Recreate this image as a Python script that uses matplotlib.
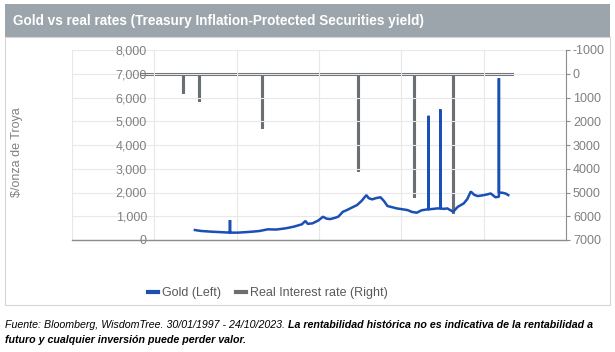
import numpy as np
import matplotlib
matplotlib.use('Agg')
import matplotlib.pyplot as plt
from matplotlib.patches import Rectangle
from matplotlib.lines import Line2D

plt.rcParams['font.family'] = ['Liberation Sans', 'DejaVu Sans']
plt.rcParams['axes.unicode_minus'] = False

# gold price, $/oz (left axis) - decimal years
gold_years = [1997.08, 1997.6, 1998.5, 1999.3, 2000.07, 2000.07, 2000.07, 2000.75, 2001.4, 2001.95,
              2002.6, 2003.3, 2004.0, 2004.8, 2005.5, 2006.2, 2006.5, 2006.7, 2007.1, 2007.6,
              2008.0, 2008.3, 2008.6, 2009.0, 2009.3, 2009.7, 2010.0, 2010.4, 2010.9, 2011.3,
              2011.7, 2011.9, 2012.2, 2012.5, 2012.9, 2013.2, 2013.5, 2013.9, 2014.3, 2014.7,
              2015.2, 2015.6, 2016.0, 2016.4, 2016.9, 2017.0, 2017.0, 2017.0, 2017.4, 2017.75,
              2018.0, 2018.0, 2018.0, 2018.3, 2018.6, 2019.1, 2019.5, 2020.0, 2020.3, 2020.6,
              2020.9, 2021.2, 2021.6, 2022.0, 2022.3, 2022.7, 2023.0, 2023.0, 2023.0, 2023.3,
              2023.6, 2023.8]
gold_price = [420, 380, 350, 330, 310, 840, 310, 310, 330, 350,
              380, 450, 440, 490, 560, 660, 800, 680, 700, 820,
              980, 900, 880, 930, 980, 1190, 1250, 1350, 1470, 1650,
              1890, 1760, 1710, 1760, 1800, 1640, 1430, 1380, 1330, 1300,
              1260, 1180, 1150, 1250, 1290, 1290, 5230, 1290, 1310, 1330,
              1330, 5500, 1330, 1310, 1330, 1190, 1400, 1540, 1720, 2040,
              1900, 1850, 1880, 1920, 1960, 1800, 1820, 6810, 1990, 1990,
              1950, 1890]

# real interest rate (right axis, inverted)
rate_years = [1992.6, 1996.1, 1996.1, 1996.1, 1997.4, 1997.4, 1997.4, 2002.8, 2002.8, 2002.8,
              2011.0, 2011.0, 2011.0, 2015.8, 2015.8, 2015.8, 2019.1, 2019.1, 2019.1, 2024.1]
rate_vals = [0, 0, 830, 0, 0, 1150, 0, 0, 2290, 0,
             0, 4080, 0, 0, 5170, 0, 0, 5850, 0, 0]

left_ticks = np.arange(0, 8001, 1000)
right_ticks = np.arange(-1000, 7001, 1000)
x_grid = np.arange(1986.6, 2029, 7.02)

gold_col = '#1a4fb5'
rate_col = '#6b6f73'
tick_col = '#808080'

W, H = 615, 352
fig = plt.figure(figsize=(W / 100, H / 100), dpi=100)

# chart frame and title banner
fig.patches.append(Rectangle((5 / W, 1 - 305 / H), 605 / W, 268 / H, transform=fig.transFigure,
                             facecolor='white', edgecolor='#d6d6d6', lw=0.8, zorder=-5))
fig.patches.append(Rectangle((5 / W, 1 - 37 / H), 605 / W, 33 / H, transform=fig.transFigure,
                             facecolor='#9ba5ab', edgecolor='none', zorder=-5))
fig.text(13 / W, 1 - 21 / H, 'Gold vs real rates (Treasury Inflation-Protected Securities yield)',
         color='white', fontsize=9.8, fontweight='bold', va='center', ha='left')

ax = fig.add_axes([72 / W, 1 - 240 / H, 494 / W, 190 / H])
ax.set_facecolor('none')
ax.plot(gold_years, gold_price, color=gold_col, lw=1.8, zorder=3, solid_joinstyle='bevel')
ax.set_ylim(0, 8000)
ax.set_xlim(1986.6, 2028.7)
ax.set_yticks(left_ticks)
ax.set_yticklabels([f'{v:,}' for v in left_ticks])
ax.set_xticks(x_grid)
ax.set_xticklabels([])
ax.tick_params(axis='x', length=0)
ax.tick_params(axis='y', length=0, pad=-54, labelsize=9, labelcolor=tick_col)
for lab in ax.get_yticklabels():
    lab.set_horizontalalignment('right')
ax.grid(True, color='#e8e8e8', lw=0.8)
ax.set_axisbelow(True)
for s in ['top', 'right', 'left']:
    ax.spines[s].set_visible(False)
ax.spines['bottom'].set_color('#8c8c8c')
ax.spines['bottom'].set_linewidth(1.0)
ax.spines['bottom'].set_zorder(4)

ax2 = ax.twinx()
ax2.plot(rate_years, rate_vals, color=rate_col, lw=2.2, zorder=2, solid_joinstyle='bevel')
ax2.set_ylim(7000, -1000)
ax2.set_yticks(right_ticks)
ax2.tick_params(axis='y', length=3, color='#8c8c8c', labelsize=9, labelcolor=tick_col, pad=2)
for s in ['top', 'left', 'bottom']:
    ax2.spines[s].set_visible(False)
ax2.spines['right'].set_color('#8c8c8c')
ax.set_zorder(ax2.get_zorder() + 1)

fig.text(17 / W, 1 - 152 / H, '$/onza de Troya', rotation=90, color=tick_col, fontsize=9,
         ha='center', va='center')

handles = [Line2D([], [], color=gold_col, lw=3), Line2D([], [], color=rate_col, lw=3)]
fig.legend(handles, ['Gold (Left)', 'Real Interest rate (Right)'], loc='center',
           bbox_to_anchor=(268 / W, 1 - 293 / H), ncol=2, frameon=False, fontsize=9,
           labelcolor='#595959', handlelength=0.8, handletextpad=0.3, columnspacing=1.2)

t1 = fig.text(5 / W, 1 - 325 / H, 'Fuente: Bloomberg, WisdomTree. 30/01/1997 - 24/10/2023. ',
              fontsize=7.7, style='italic', va='center', ha='left')
ax.annotate('La rentabilidad histórica no es indicativa de la rentabilidad a', xy=(1, 0.5),
            xycoords=t1, fontsize=7.7, style='italic', fontweight='bold', va='center', ha='left',
            annotation_clip=False)
fig.text(5 / W, 1 - 340 / H, 'futuro y cualquier inversión puede perder valor.',
         fontsize=7.7, style='italic', fontweight='bold', va='center', ha='left')

fig.savefig('out.png', dpi=100)
